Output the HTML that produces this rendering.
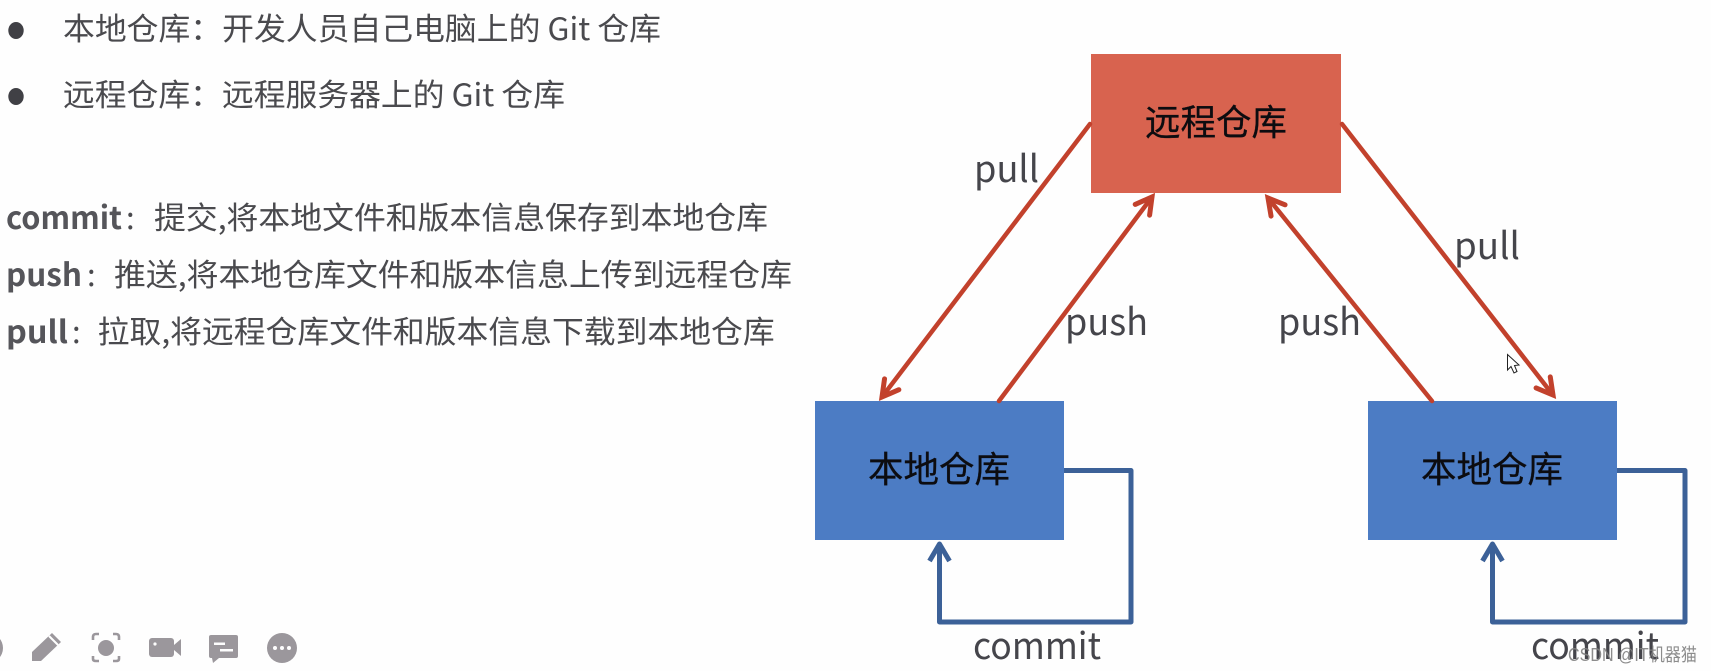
<!DOCTYPE html>
<html lang="zh-CN">
<head>
<meta charset="utf-8">
<title>Git 仓库</title>
<style>
html,body{margin:0;padding:0;background:#fefefe;width:1711px;height:671px;overflow:hidden}
svg{display:block;position:absolute;left:0;top:0}
text{font-family:"Liberation Sans","Noto Sans CJK SC",sans-serif}
.t{font-family:"Noto Sans CJK SC",sans-serif;fill:#4a4a4e;font-size:31px}
.b{font-family:"Noto Sans CJK SC",sans-serif;fill:#55555a;font-size:31px;font-weight:700}
.l{font-family:"Noto Sans CJK SC",sans-serif;fill:#45454b;font-size:37px}
.n{font-family:"Noto Sans CJK SC",sans-serif;fill:#0c0c10;font-size:36px;stroke:#0c0c10;stroke-width:.3}
.r{stroke:#c2412c;stroke-width:4.5;fill:none;stroke-linecap:round;stroke-linejoin:round}
.u{stroke:#3c6198;stroke-width:5;fill:none;stroke-linejoin:round}
</style>
</head>
<body>
<svg width="1711" height="671" viewBox="0 0 1711 671" xmlns="http://www.w3.org/2000/svg">
<defs>
<marker id="ra" markerUnits="userSpaceOnUse" markerWidth="40" markerHeight="40" refX="20" refY="20" orient="auto" overflow="visible">
<path d="M4,11 L20,20 L4,29" fill="none" stroke="#c2412c" stroke-width="5" stroke-linecap="round" stroke-linejoin="miter"/>
</marker>
</defs>
<rect width="1711" height="671" fill="#fefefe"/>

<!-- left text -->
<ellipse cx="16" cy="30.5" rx="7.7" ry="8.5" fill="#404045"/>
<ellipse cx="16" cy="96.5" rx="7.7" ry="8.5" fill="#404045"/>
<text class="t" x="63" y="40" textLength="598" lengthAdjust="spacingAndGlyphs">本地仓库：开发人员自己电脑上的 Git 仓库</text>
<text class="t" x="63" y="106" textLength="502" lengthAdjust="spacingAndGlyphs">远程仓库：远程服务器上的 Git 仓库</text>

<text class="b" x="6" y="229" textLength="116" lengthAdjust="spacingAndGlyphs">commit</text>
<text class="t" x="126" y="229">:</text>
<text class="t" x="154" y="229" textLength="614" lengthAdjust="spacingAndGlyphs">提交,将本地文件和版本信息保存到本地仓库</text>

<text class="b" x="6" y="286" textLength="76" lengthAdjust="spacingAndGlyphs">push</text>
<text class="t" x="87" y="286">:</text>
<text class="t" x="114" y="286" textLength="678" lengthAdjust="spacingAndGlyphs">推送,将本地仓库文件和版本信息上传到远程仓库</text>

<text class="b" x="6" y="343" textLength="62" lengthAdjust="spacingAndGlyphs">pull</text>
<text class="t" x="72" y="343">:</text>
<text class="t" x="97.7" y="343" textLength="677" lengthAdjust="spacingAndGlyphs">拉取,将远程仓库文件和版本信息下载到本地仓库</text>

<!-- boxes -->
<rect x="1091" y="54" width="250" height="139" fill="#d8634f"/>
<rect x="815" y="401" width="249" height="139" fill="#4c7cc4"/>
<rect x="1368" y="401" width="249" height="139" fill="#4c7cc4"/>
<text class="n" x="1145" y="135" textLength="142" lengthAdjust="spacingAndGlyphs">远程仓库</text>
<text class="n" x="868" y="482" textLength="142" lengthAdjust="spacingAndGlyphs">本地仓库</text>
<text class="n" x="1421" y="482" textLength="142" lengthAdjust="spacingAndGlyphs">本地仓库</text>

<!-- red arrows -->
<line class="r" x1="1090" y1="124" x2="882" y2="397" marker-end="url(#ra)"/>
<line class="r" x1="999" y1="401" x2="1152" y2="197" marker-end="url(#ra)"/>
<line class="r" x1="1432" y1="401" x2="1268" y2="198" marker-end="url(#ra)"/>
<line class="r" x1="1342" y1="124" x2="1553" y2="395" marker-end="url(#ra)"/>

<!-- blue loops -->
<path class="u" d="M1064,470.5 H1131 V622 H939.5 V546"/>
<path class="u" d="M929.5,561 L939.5,544 L949.5,561" />
<path class="u" d="M1617,470.5 H1685 V622 H1492.5 V546"/>
<path class="u" d="M1482.5,561 L1492.5,544 L1502.5,561" />

<!-- labels -->
<text class="l" x="974" y="182" textLength="65" lengthAdjust="spacingAndGlyphs">pull</text>
<text class="l" x="1065" y="335" textLength="83" lengthAdjust="spacingAndGlyphs">push</text>
<text class="l" x="1278" y="335" textLength="83" lengthAdjust="spacingAndGlyphs">push</text>
<text class="l" x="1454" y="259" textLength="66" lengthAdjust="spacingAndGlyphs">pull</text>
<text class="l" x="973" y="659" textLength="128" lengthAdjust="spacingAndGlyphs">commit</text>
<text class="l" x="1531" y="659" textLength="128" lengthAdjust="spacingAndGlyphs">commit</text>

<!-- watermark -->
<text x="1568" y="661" textLength="129" lengthAdjust="spacingAndGlyphs" font-size="18" fill="#7f7f7f" fill-opacity="0.9" style="font-family:'Liberation Sans','Noto Sans CJK SC',sans-serif">CSDN @IT机器猫</text>

<!-- cursor -->
<path d="M1507.5,354.5 V370 L1511,366.5 L1514,373 L1517,371.5 L1514.5,365.5 L1519,365 Z" fill="#fff" stroke="#222" stroke-width="1"/>

<!-- toolbar -->
<g fill="#9b979c">
<circle cx="-12" cy="648" r="15"/>
<path d="M52,633 L61,642 L41,661 L32,661 L32,652 Z"/>
<path d="M49,636 L58,645" stroke="#fefefe" stroke-width="2" fill="none"/>
<circle cx="106" cy="648" r="8"/>
<path d="M93,640 V637 Q93,634 96,634 H99 M113,634 H116 Q119,634 119,637 V640 M119,656 V659 Q119,661 116,661 H113 M99,661 H96 Q93,661 93,659 V656" fill="none" stroke="#9b979c" stroke-width="2.6"/>
<rect x="149" y="638" width="25" height="19" rx="3"/>
<path d="M174,645 L181,639 V656 L174,650 Z"/>
<circle cx="155" cy="644" r="1.6" fill="#fefefe"/>
<path d="M211,635 H236 Q238,635 238,637 V656 Q238,658 236,658 H219 L213,663 L212,658 H211 Q209,658 209,656 V637 Q209,635 211,635 Z"/>
<rect x="214" y="642.5" width="11" height="2.5" fill="#fefefe"/>
<rect x="220" y="649" width="13" height="2.5" fill="#fefefe"/>
<circle cx="282" cy="648" r="15"/>
<circle cx="275" cy="648" r="2" fill="#fefefe"/>
<circle cx="282" cy="648" r="2" fill="#fefefe"/>
<circle cx="289" cy="648" r="2" fill="#fefefe"/>
</g>
</svg>
</body>
</html>
